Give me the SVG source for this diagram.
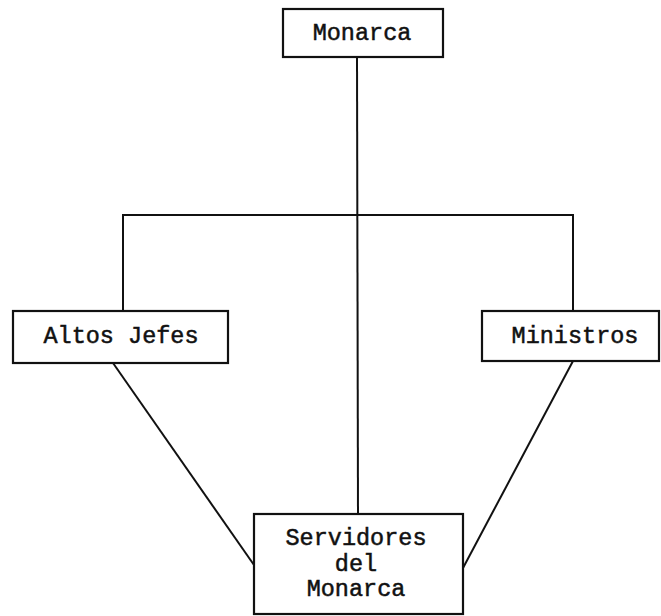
<svg xmlns="http://www.w3.org/2000/svg" width="661" height="616" viewBox="0 0 661 616">
<style>
.box{fill:#fff;stroke:#111;stroke-width:2.2}
.ln{fill:none;stroke:#111;stroke-width:2}
text{font-family:"Liberation Mono","Courier New",monospace;font-size:23.5px;fill:#111;stroke:#111;stroke-width:0.5;text-anchor:middle}
</style>
<rect width="661" height="616" fill="#fff"/>
<g id="connectors">
<line class="ln" x1="357" y1="57" x2="358" y2="514"/>
<polyline class="ln" points="123,311 123,215 573,215 573,311"/>
<line class="ln" x1="113" y1="363" x2="254" y2="565"/>
<line class="ln" x1="573" y1="361" x2="463" y2="568"/>
</g>
<g id="monarca">
<rect class="box" x="283" y="9" width="160" height="48"/>
<text x="362" y="40">Monarca</text>
</g>
<g id="altos-jefes">
<rect class="box" x="13" y="311" width="215" height="52"/>
<text x="121" y="343">Altos Jefes</text>
</g>
<g id="ministros">
<rect class="box" x="482" y="311" width="177" height="50"/>
<text x="575" y="343">Ministros</text>
</g>
<g id="servidores">
<rect class="box" x="254" y="514" width="209" height="100"/>
<text x="356" y="545">Servidores</text>
<text x="356" y="571">del</text>
<text x="356" y="596">Monarca</text>
</g>
</svg>
